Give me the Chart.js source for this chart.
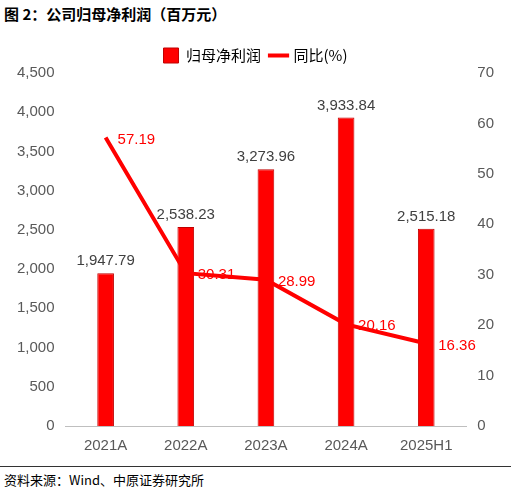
<!DOCTYPE html>
<html><head><meta charset="utf-8">
<script src="https://cdn.jsdelivr.net/npm/chart.js@4/dist/chart.umd.min.js"></script>
<style>
body{margin:0;width:511px;height:503px;background:#fff;font-family:"Noto Sans CJK SC",sans-serif;position:relative;overflow:hidden}
#t{position:absolute;left:4px;top:3px;font-size:15px;font-weight:bold;color:#000}
#fl{position:absolute;left:0;top:466px;width:511px;border-top:1.5px solid #333}
#f{position:absolute;left:4px;top:470px;font-size:13px;color:#000}
#c{position:absolute;left:0;top:38px;width:511px;height:420px}
</style></head><body>
<div id="t">图 2：公司归母净利润（百万元）</div>
<div id="c"><canvas id="cv"></canvas></div>
<div id="fl"></div><div id="f">资料来源：Wind、中原证券研究所</div>
<script>
const categories=["2021A","2022A","2023A","2024A","2025H1"];
const profit=[1947.79,2538.23,3273.96,3933.84,2515.18];
const growth=[57.19,30.31,28.99,20.16,16.36];
const leftTicks=[0,500,1000,1500,2000,2500,3000,3500,4000,4500];
const fmt=v=>v.toLocaleString('en-US',{minimumFractionDigits:2,maximumFractionDigits:2});
const lbl={id:'lbl',afterDatasetsDraw(ch){const c=ch.ctx;c.save();c.font='15px "Liberation Sans", Arial';
ch.getDatasetMeta(0).data.forEach((b,i)=>{c.fillStyle='#404040';c.textAlign='center';c.fillText(fmt(profit[i]),b.x,b.y-12);});
ch.getDatasetMeta(1).data.forEach((p,i)=>{c.fillStyle='#FF0000';c.textAlign='left';c.fillText(growth[i].toFixed(2),p.x+12,p.y+2);});
c.restore();}};
new Chart(document.getElementById('cv'),{data:{labels:categories,datasets:[
{type:'bar',label:'归母净利润',data:profit,backgroundColor:'#FF0000',borderColor:'#C00000',borderWidth:1,barPercentage:0.26,yAxisID:'y',order:2},
{type:'line',label:'同比(%)',data:growth,borderColor:'#FF0000',backgroundColor:'#FF0000',borderWidth:4,pointRadius:0,yAxisID:'y1',order:1}]},
options:{responsive:true,maintainAspectRatio:false,animation:false,layout:{padding:{left:14,right:14,top:0,bottom:0}},
plugins:{legend:{labels:{usePointStyle:true,font:{size:15,family:'"Noto Sans CJK SC"'},color:'#595959',generateLabels:ch=>[
{text:'归母净利润',fillStyle:'#FF0000',strokeStyle:'#C00000',lineWidth:1,datasetIndex:0,pointStyle:'rect'},
{text:'同比(%)',fillStyle:'#FF0000',strokeStyle:'#FF0000',lineWidth:4,datasetIndex:1,pointStyle:'line'}]}},tooltip:{enabled:false}},
scales:{x:{grid:{display:false},border:{color:'#BFBFBF'},ticks:{color:'#595959',font:{size:15,family:'"Liberation Sans"'}}},
y:{min:0,max:4500,afterBuildTicks:a=>{a.ticks=leftTicks.map(v=>({value:v}))},grid:{display:false},border:{display:false},ticks:{color:'#595959',font:{size:15,family:'"Liberation Sans"'},callback:v=>v.toLocaleString('en-US')}},
y1:{position:'right',min:0,max:70,grid:{display:false},border:{display:false},ticks:{stepSize:10,color:'#595959',font:{size:15,family:'"Liberation Sans"'}}}}},
plugins:[lbl]});
</script></body></html>
